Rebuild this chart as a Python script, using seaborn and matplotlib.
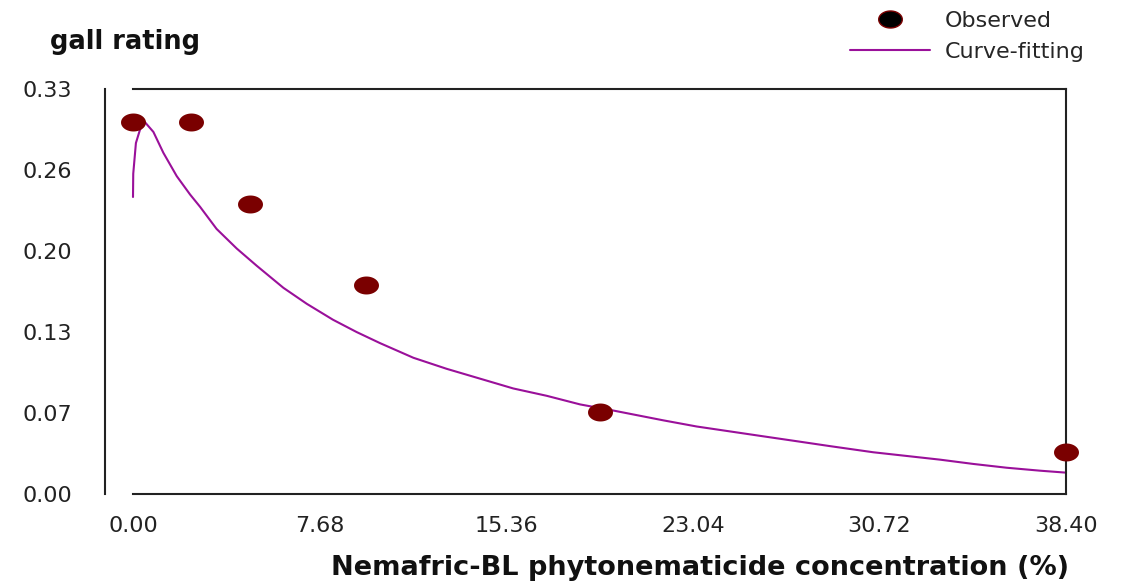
import numpy as np
import pandas as pd
import matplotlib
matplotlib.use("Agg")
import matplotlib.pyplot as plt
from matplotlib.path import Path
from matplotlib.lines import Line2D
from matplotlib.legend_handler import HandlerLine2D
import seaborn as sns

# observed gall rating vs concentration (%)
obs_conc = [0.0, 2.4, 4.8, 9.6, 19.2, 38.4]
obs_gall = [0.303, 0.303, 0.236, 0.170, 0.067, 0.034]

# fitted curve
fit_conc = [0.0, 0.01, 0.12, 0.29, 0.49, 0.84, 1.25, 1.80, 2.35, 2.76, 3.44, 4.27,
            5.09, 6.19, 7.15, 8.23, 9.20, 10.16, 11.54, 12.91, 14.28, 15.65, 17.03,
            18.40, 19.77, 21.83, 23.20, 24.57, 25.94, 27.32, 28.69, 30.47, 31.84,
            33.21, 34.58, 35.96, 37.33, 38.40]
fit_gall = [0.242, 0.261, 0.286, 0.297, 0.303, 0.295, 0.278, 0.259, 0.244, 0.234,
            0.216, 0.200, 0.186, 0.168, 0.155, 0.142, 0.132, 0.123, 0.111, 0.102,
            0.094, 0.086, 0.080, 0.073, 0.068, 0.060, 0.055, 0.051, 0.047, 0.043,
            0.039, 0.034, 0.031, 0.028, 0.0245, 0.0214, 0.019, 0.0174]

x_ticks = [0.0, 7.68, 15.36, 23.04, 30.72, 38.40]
x_ticklabels = ["0.00", "7.68", "15.36", "23.04", "30.72", "38.40"]
y_ticks = [0.0, 0.066, 0.132, 0.198, 0.264, 0.33]
y_ticklabels = ["0.00", "0.07", "0.13", "0.20", "0.26", "0.33"]

obs_df = pd.DataFrame({"conc": obs_conc, "gall": obs_gall})
fit_df = pd.DataFrame({"conc": fit_conc, "gall": fit_gall})

sns.set_style("white")
plt.rcParams["font.family"] = ["DejaVu Sans"]

# the source picture is stretched sideways, so use a wide dot
t = np.linspace(0, 2 * np.pi, 40)
dot = Path(np.column_stack([np.cos(t), 0.72 * np.sin(t)]))

maroon = "#7a0000"
purple = "#9a109a"


class LeftMarker(HandlerLine2D):
    # put the legend dot near the left end of the handle box
    def get_xdata(self, legend, xdescent, ydescent, width, height, fontsize):
        xd, _ = super().get_xdata(legend, xdescent, ydescent, width, height, fontsize)
        return xd, [-xdescent + width * 0.22]


fig = plt.figure(figsize=(11.33, 5.82), dpi=100)
ax = fig.add_axes([133 / 1133, 1 - 494 / 582, 933 / 1133, 405 / 582])

sns.lineplot(data=fit_df, x="conc", y="gall", ax=ax, color=purple, lw=1.5,
             sort=False, estimator=None, clip_on=False, zorder=2)
sns.scatterplot(data=obs_df, x="conc", y="gall", ax=ax, marker=dot, s=18 ** 2,
                color=maroon, edgecolor=maroon, linewidth=0, clip_on=False, zorder=3)

ax.set_xlim(0, 38.4)
ax.set_ylim(0, 0.33)
ax.set_xticks(x_ticks)
ax.set_xticklabels(x_ticklabels)
ax.set_yticks(y_ticks)
ax.set_yticklabels(y_ticklabels)
ax.tick_params(axis="both", direction="out", length=8, width=1.5, color="#222222",
               labelsize=16, labelcolor="#222222")
ax.tick_params(axis="y", pad=16)
ax.tick_params(axis="x", pad=8)
for s in ax.spines.values():
    s.set_color("#222222")
    s.set_linewidth(1.5)
ax.spines["left"].set_position(("outward", 20))

ax.set_ylabel("")
ax.set_xlabel("Nemafric-BL phytonematicide concentration (%)", fontsize=19.5,
              fontweight="bold", color="#111111")
ax.xaxis.set_label_coords((700 - 133) / 933, -0.183)
ax.xaxis.label.set_va("center")

fig.text(50 / 1133, 1 - 42 / 582, "gall rating", fontsize=18.5, fontweight="bold",
         color="#111111", ha="left", va="center")

h_obs = Line2D([], [], ls="none", marker=dot, markersize=17, markerfacecolor="black",
               markeredgecolor=maroon, markeredgewidth=1)
h_fit = Line2D([], [], color=purple, lw=1.5)
fig.legend([h_obs, h_fit], ["Observed", "Curve-fitting"], loc="upper left",
           bbox_to_anchor=(850 / 1133, 1 - 11 / 582), frameon=False, fontsize=16,
           handlelength=3.6, handletextpad=0.68, labelspacing=0.5, borderpad=0,
           borderaxespad=0, handler_map={h_obs: LeftMarker()})

fig.savefig("out.png", dpi=100)
